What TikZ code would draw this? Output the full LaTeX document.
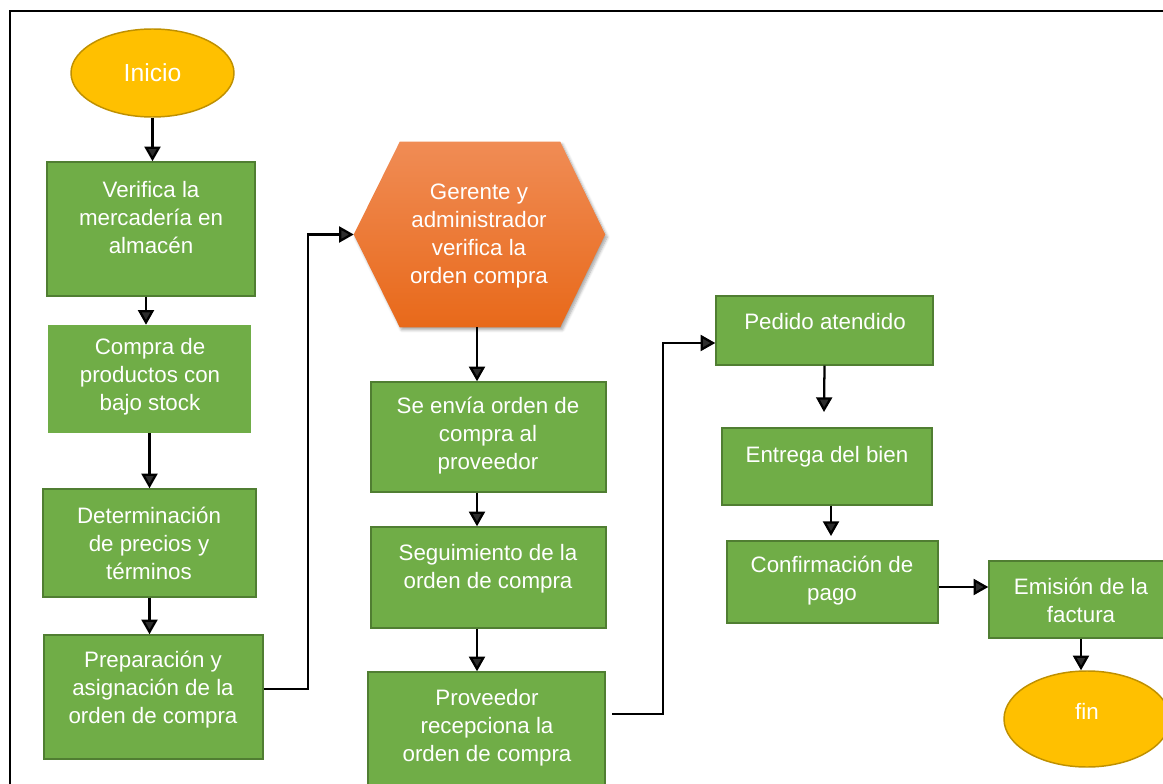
\documentclass[tikz,border=0pt]{standalone}
\usepackage{fontspec}
\setmainfont{Liberation Sans}
\usetikzlibrary{arrows.meta,shadows.blur,shapes.geometric}

\definecolor{boxgreen}{HTML}{70AD47}
\definecolor{boxedge}{HTML}{507E32}
\definecolor{termfill}{HTML}{FFC000}
\definecolor{termedge}{HTML}{BF9000}
\definecolor{hextop}{HTML}{F08C55}
\definecolor{hexbottom}{HTML}{E8691A}

\tikzset{
  stepbox/.style={rectangle, fill=boxgreen, draw=boxedge, line width=1.1pt, inner sep=0pt},
  plainbox/.style={rectangle, fill=boxgreen, draw=none, inner sep=0pt},
  terminal/.style={ellipse, fill=termfill, draw=termedge, line width=1.1pt, inner sep=0pt},
  boxtext/.style={text=white, align=center, inner sep=0pt, font=\fontsize{16.75}{21}\selectfont},
  arr/.style={line width=1.7pt, -{Triangle[length=11pt,width=12pt]}}
}

\begin{document}
\begin{tikzpicture}[x=0.75pt,y=-0.75pt]
\useasboundingbox (0,0) rectangle (1163,784);
\clip (0,0) rectangle (1163,784);

% outer frame
\coordinate (frameBL) at (10,800);
\coordinate (frameTL) at (10,11);
\coordinate (frameTR) at (1200,11);
\draw[line width=2pt] (frameBL) -- (frameTL) -- (frameTR);

% start
\node[terminal, minimum width=122.25pt, minimum height=66pt] (inicio) at (152.5,73) {};
\node[boxtext, font=\fontsize{18.5}{22}\selectfont] (inicio-t) at (152.5,73) {Inicio};

% first column
\node[stepbox, minimum width=156pt, minimum height=100.5pt] (verif) at (151,229) {};
\node[boxtext] (verif-t) at (151,218) {Verifica la\\mercadería en\\almacén};

\node[plainbox, minimum width=152.25pt, minimum height=81pt] (compra) at (149.5,379) {};
\node[boxtext] (compra-t) at (150,377) {Compra de\\productos con\\bajo stock};

\node[stepbox, minimum width=159.75pt, minimum height=81pt] (determ) at (149.5,543) {};
\node[boxtext] (determ-t) at (149,543) {Determinación\\de precios y\\términos};

\node[stepbox, minimum width=164.25pt, minimum height=93pt] (prep) at (153.5,697) {};
\node[boxtext] (prep-t) at (153,690) {Preparación y\\asignación de la\\orden de compra};

% decision hexagon
\node[minimum width=188.25pt, minimum height=138.75pt, inner sep=0pt] (hex) at (479.5,234.5) {};
\path[blur shadow={shadow xshift=1.5pt, shadow yshift=-2pt, shadow blur steps=6, shadow opacity=35},
      top color=hextop, bottom color=hexbottom]
  (hex.west) -- ([xshift=34.5pt]hex.north west) -- ([xshift=-33.75pt]hex.north east)
  -- (hex.east) -- ([xshift=-33.75pt]hex.south east) -- ([xshift=34.5pt]hex.south west) -- cycle;
\node[boxtext] (hex-t) at (479,236.5) {Gerente y\\administrador\\verifica la\\orden compra};

% second column
\node[stepbox, minimum width=176.25pt, minimum height=82.5pt] (envia) at (488.5,437) {};
\node[boxtext] (envia-t) at (488,436) {Se envía orden de\\compra al\\proveedor};

\node[stepbox, minimum width=176.25pt, minimum height=75.75pt] (segui) at (488.5,577.5) {};
\node[boxtext] (segui-t) at (488,568.5) {Seguimiento de la\\orden de compra};

\node[stepbox, minimum width=177.75pt, minimum height=96pt] (prov) at (486.5,736) {};
\node[boxtext] (prov-t) at (487,728) {Proveedor\\recepciona la\\orden de compra};

% third column
\node[stepbox, minimum width=162.75pt, minimum height=51.75pt] (pedido) at (824.5,330.5) {};
\node[boxtext] (pedido-t) at (825,322) {Pedido atendido};

\node[stepbox, minimum width=157.5pt, minimum height=57.75pt] (entrega) at (827,466.5) {};
\node[boxtext] (entrega-t) at (827,457) {Entrega del bien};

\node[stepbox, minimum width=158.25pt, minimum height=61.5pt] (confirm) at (832.5,582) {};
\node[boxtext] (confirm-t) at (832,581) {Confirmación de\\pago};

\node[stepbox, minimum width=138pt, minimum height=57.75pt] (emision) at (1081,599.5) {};
\node[boxtext] (emision-t) at (1081,600) {Emisión de la\\factura};

% end
\node[terminal, minimum width=124.5pt, minimum height=72pt] (fin) at (1087,719) {};
\node[boxtext] (fin-t) at (1087,711) {fin};

% routing points
\coordinate (col1) at (146,0);
\coordinate (col2) at (477,0);
\coordinate (col3) at (831,0);
\coordinate (bend1) at (308,0);
\coordinate (out2) at (612,714);
\coordinate (bend2) at (663,343);
\coordinate (stop3) at (824,412);
\coordinate (stop4) at (831,536);

% connectors
\draw[arr] (inicio.south) -- (inicio.south |- verif.north);
\draw[arr] (col1 |- verif.south) -- (col1 |- compra.north);
\draw[arr] (compra.south) -- (compra.south |- determ.north);
\draw[arr] (determ.south) -- (determ.south |- prep.north);
\draw[arr] ([yshift=6pt]prep.east) -| (bend1 |- hex.west) -- (hex.west);
\draw[arr] (col2 |- hex.south) -- (col2 |- envia.north);
\draw[arr] (col2 |- envia.south) -- (col2 |- segui.north);
\draw[arr] (col2 |- segui.south) -- (col2 |- prov.north);
\draw[arr] (out2) -| (bend2) -- (bend2 -| pedido.west);
\draw[arr] (pedido.south) -- (stop3);
\draw[arr] (col3 |- entrega.south) -- (stop4);
\draw[arr] ([yshift=-3.75pt]confirm.east) -- ([yshift=-3.75pt]confirm.east -| emision.west);
\draw[arr] (emision.south) -- (emision.south |- fin.north);
\end{tikzpicture}
\end{document}
